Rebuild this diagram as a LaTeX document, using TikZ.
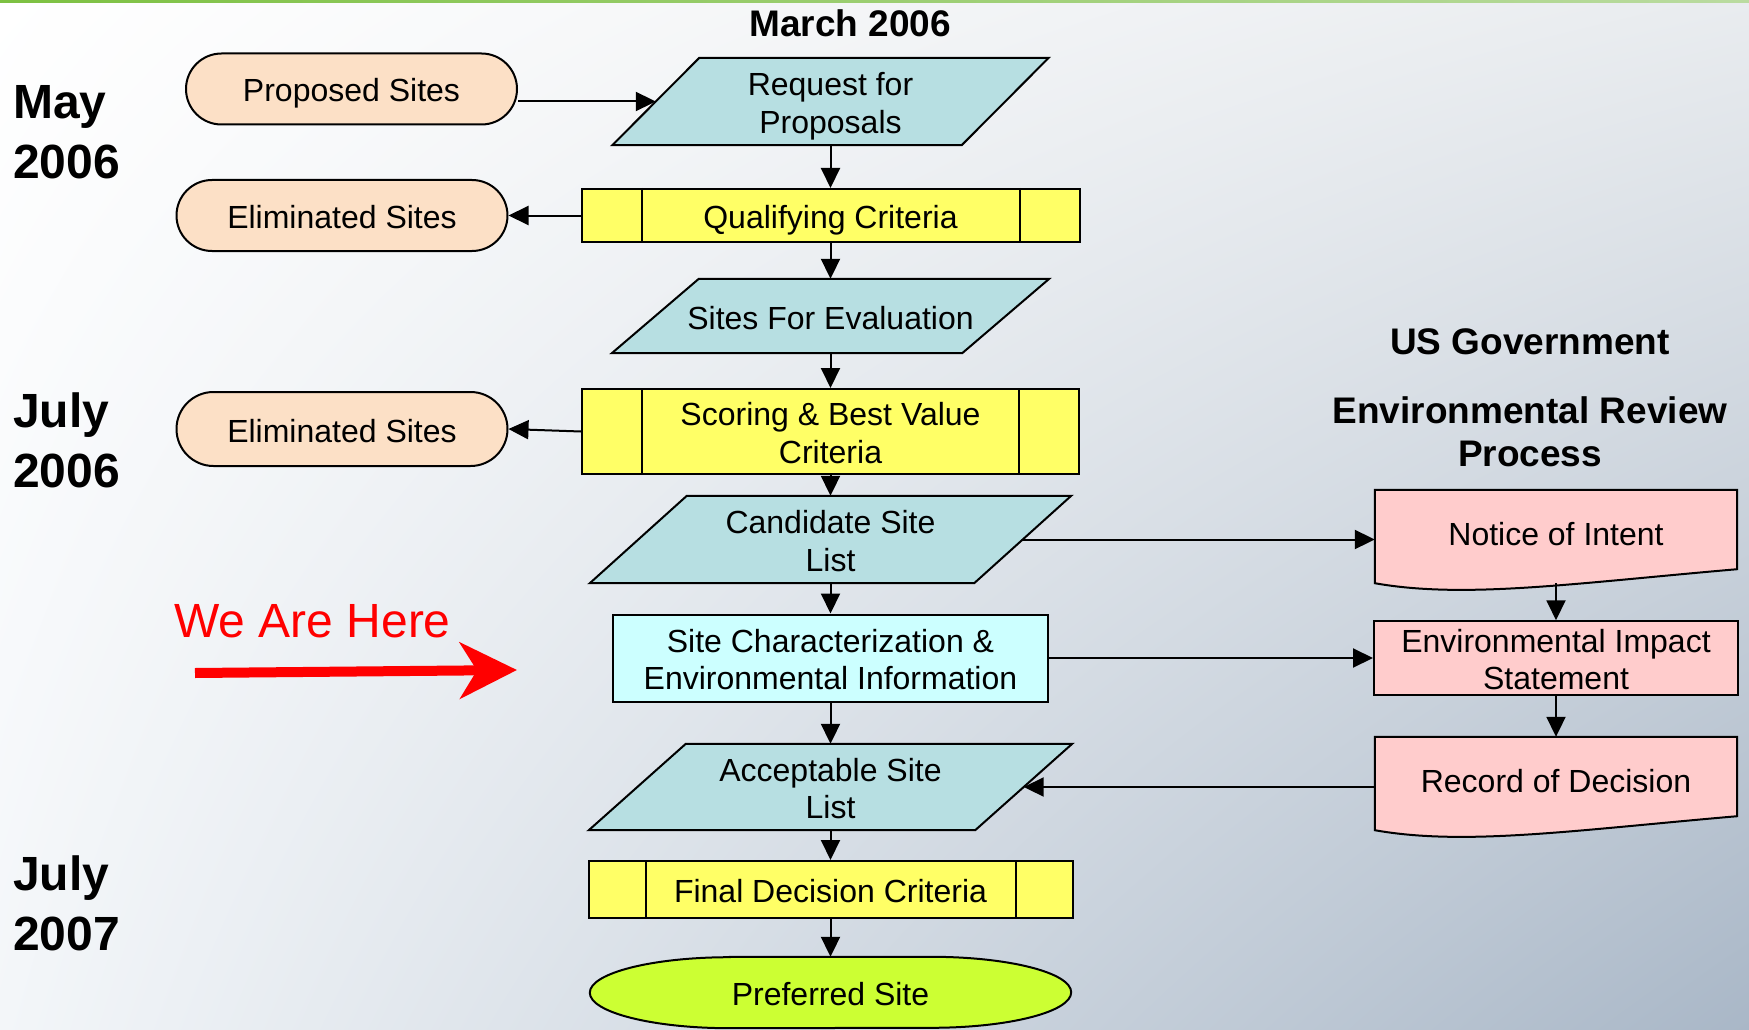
\documentclass[tikz,border=0pt]{standalone}
\usepackage{fontspec}
\setmainfont{Liberation Sans}
\usetikzlibrary{shapes.geometric,shapes.misc,arrows.meta,calc,shadings}
\pgfdeclarelayer{bgshade}
\pgfdeclarelayer{shapes}
\pgfsetlayers{bgshade,shapes,main}
\definecolor{peach}{HTML}{FCE0C6}
\definecolor{paraclr}{HTML}{B7DFE2}
\definecolor{yel}{HTML}{FFFF66}
\definecolor{cyanbox}{HTML}{CCFFFF}
\definecolor{pinkbox}{HTML}{FFCCCC}
\definecolor{limebox}{HTML}{CCFF33}
\definecolor{bgUR}{HTML}{E9ECEF}
\definecolor{bgLL}{HTML}{F3F6F9}
\definecolor{bgLR}{HTML}{A9B7C7}
\definecolor{greenA}{HTML}{7DC142}
\definecolor{greenB}{HTML}{BADBA0}
\newcommand{\nfont}{\fontsize{32}{37.5}\selectfont}
\newcommand{\datefont}{\bfseries\fontsize{48}{60}\selectfont}
\newcommand{\hdrfont}{\bfseries\fontsize{37}{43}\selectfont}
\newcommand{\paradraw}[2]{%
  \draw[line width=2pt, fill=paraclr] ($(#1.north west)+(#2/2,0)$) -- ($(#1.north east)+(#2/2,0)$) -- ($(#1.south east)+(-#2/2,0)$) -- ($(#1.south west)+(-#2/2,0)$) -- cycle;}
\newcommand{\sidebars}[2]{%
  \draw[line width=2pt] ($(#1.north west)+(#2,0)$) -- ($(#1.south west)+(#2,0)$) ($(#1.north east)+(-#2,0)$) -- ($(#1.south east)+(-#2,0)$);}
\newcommand{\docdraw}[1]{%
  \draw[line width=2pt, fill=pinkbox] (#1.north west) -- (#1.north east) -- ($(#1.south east)+(0,-14)$) .. controls ($(#1.south west)+(200,0)$) and ($(#1.south west)+(90,16)$) .. (#1.south west) -- cycle;}
\newcommand{\termdraw}[3]{% node, x radius, y radius
  \draw[line width=2pt, fill=limebox] ($(#1.north west)+(#2,0)$) -- ($(#1.north east)+(-#2,0)$) arc[start angle=-90, end angle=90, x radius=#2, y radius=#3] -- ($(#1.south west)+(#2,0)$) arc[start angle=90, end angle=270, x radius=#2, y radius=#3] -- cycle;}
\tikzset{
  one/.style={text height=31pt, text depth=5pt},
  two/.style={text height=68.5pt, text depth=5pt},
  box/.style={draw=black, line width=2pt, inner sep=0pt, align=center, font=\nfont},
  term/.style={box, one, fill=peach, rounded rectangle, minimum width=331pt, minimum height=71pt},
  proc/.style={box, fill=yel, rectangle},
  para/.style={inner sep=0pt, align=center, font=\nfont, rectangle},
  docbox/.style={inner sep=0pt, align=center, font=\nfont, rectangle, text height=26.5pt, text depth=9.5pt},
  datelbl/.style={inner sep=0pt, align=left, font=\datefont, anchor=north west},
  hdr/.style={inner sep=0pt, align=center, font=\hdrfont},
  arr/.style={line width=2pt, -{Triangle[length=20pt,width=19pt]}},
}
\begin{document}
\begin{tikzpicture}[x=1pt,y=-1pt]
\useasboundingbox (0,0) rectangle (1749,1030);
\begin{pgfonlayer}{bgshade}
  \shade[upper left=white, upper right=bgUR, lower left=bgLL, lower right=bgLR] (0,0) rectangle (1749,1030);
  \shade[left color=greenA, right color=greenB] (0,0) rectangle (1749,3);
\end{pgfonlayer}

% titles and dates
\node[hdr, anchor=north] (march) at (850,9) {March 2006};
\node[datelbl] (may) at (13,85) {May\\2006};
\node[datelbl] (jul6) at (13,393) {July\\2006};
\node[datelbl] (jul7) at (13,856) {July\\2007};
\node[hdr] (usgov) at (1530,342) {US Government};
\node[hdr] (erp) at (1530,432) {Environmental Review\\Process};

% left column
\node[term] (ps) at (351.5,89) {Proposed Sites};
\node[term] (el1) at (342,215.5) {Eliminated Sites};
\node[term, minimum height=74pt] (el2) at (342,429) {Eliminated Sites};

% main column
\node[para, two, minimum width=349pt, minimum height=87pt] (rfp) at (830.5,101.5) {Request for\\Proposals};
\node[proc, one, minimum width=498pt, minimum height=53pt] (qc) at (830.5,215.5) {Qualifying Criteria};
\node[para, one, minimum width=350pt, minimum height=74pt] (sfe) at (830.5,316) {Sites For Evaluation};
\node[proc, two, minimum width=497pt, minimum height=85pt] (sbv) at (830.5,431.5) {Scoring \& Best Value\\Criteria};
\node[para, two, minimum width=384pt, minimum height=87pt] (cand) at (830.5,539.5) {Candidate Site\\List};
\node[box, two, fill=cyanbox, minimum width=435pt, minimum height=87pt] (sc) at (830.5,658) {Site Characterization \&\\Environmental Information};
\node[para, two, minimum width=386pt, minimum height=86pt] (acc) at (830.5,787) {Acceptable Site\\List};
\node[proc, one, minimum width=484pt, minimum height=57pt] (fdc) at (830.5,889.5) {Final Decision Criteria};
\node[para, one, minimum width=481pt, minimum height=71pt] (pref) at (830.5,992.5) {Preferred Site};

% right column
\node[docbox, minimum width=362pt, minimum height=93pt] (noi) at (1556,536.5) {Notice of Intent};
\node[box, two, fill=pinkbox, minimum width=364pt, minimum height=72pt] (eis) at (1556,658) {Environmental Impact\\Statement};
\node[docbox, minimum width=362pt, minimum height=93pt] (rod) at (1556,783.5) {Record of Decision};

\begin{pgfonlayer}{shapes}
  \paradraw{rfp}{87}
  \paradraw{sfe}{87}
  \paradraw{cand}{97}
  \paradraw{acc}{97}
  \docdraw{noi}
  \docdraw{rod}
  \termdraw{pref}{140}{35.5}
\end{pgfonlayer}
\sidebars{qc}{61}
\sidebars{sbv}{61}
\sidebars{fdc}{58}

% connectors
\draw[arr] (ps.east |- rfp.west) -- (rfp.west);
\draw[arr] (rfp.south) -- (qc.north);
\draw[arr] (qc.south) -- (sfe.north);
\draw[arr] (sfe.south) -- (sbv.north);
\draw[arr] (sbv.south) -- (cand.north);
\draw[arr] (cand.south) -- (sc.north);
\draw[arr] (sc.south) -- (acc.north);
\draw[arr] (acc.south) -- (fdc.north);
\draw[arr] (fdc.south) -- (pref.north);
\draw[arr] (qc.west) -- (el1.east);
\draw[arr] (sbv.west) -- (el2.east);
\draw[arr] (cand.east) -- (cand.east -| noi.west);
\draw[arr] (sc.east) -- (eis.west);
\draw[arr] (rod.west |- acc.east) -- (acc.east);
\draw[arr] (noi.south) -- (eis.north);
\draw[arr] (eis.south) -- (rod.north);

% we are here
\node[anchor=base west, inner sep=0pt, text=red, font=\fontsize{48}{50}\selectfont] (here) at (174,637) {We Are Here};
\coordinate (hs) at (195,673);
\coordinate (he) at (517,670);
\draw[red, line width=10pt, -{Stealth[length=57pt,width=56pt,inset=17pt]}] (hs) -- (he);
\end{tikzpicture}
\end{document}
